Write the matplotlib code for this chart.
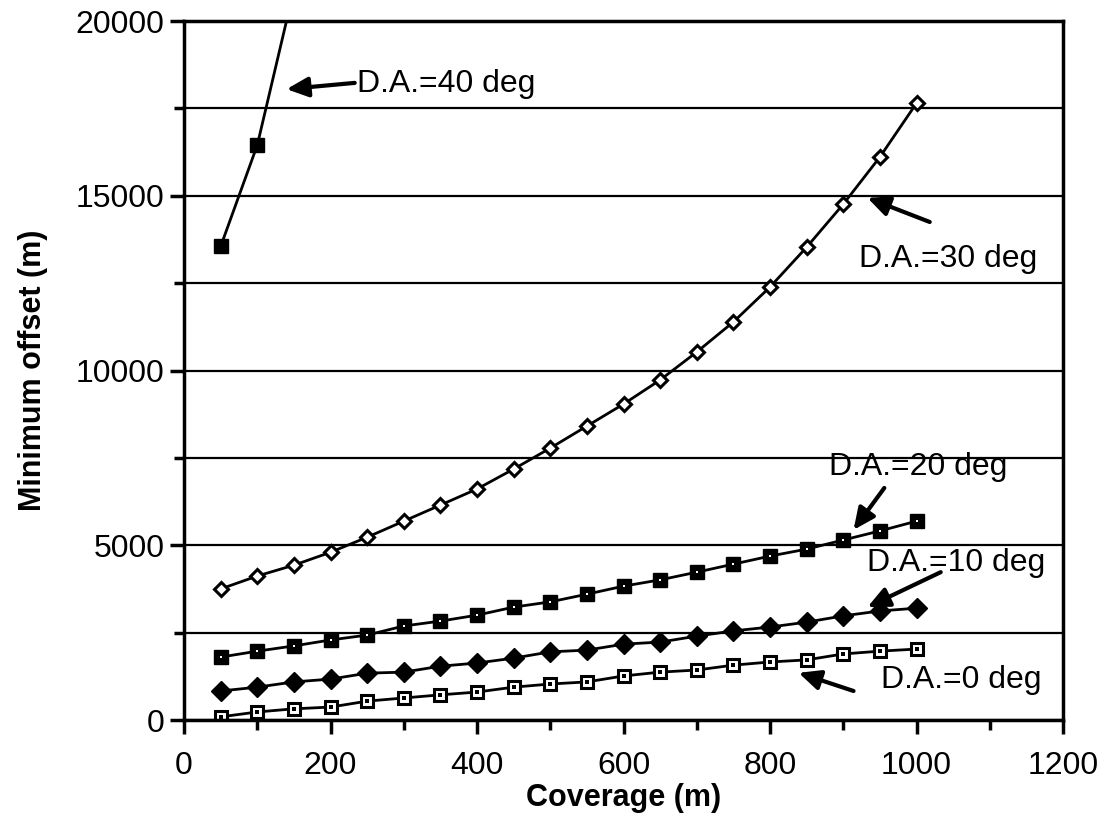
import numpy as np
import matplotlib.pyplot as plt
from matplotlib.ticker import MultipleLocator

plt.rcParams['font.family'] = ['Liberation Sans', 'DejaVu Sans']

coverage = np.arange(50, 1001, 50)

# D.A. = 40 deg (last point runs past the top of the axis)
cov_40 = [50, 100, 150]
off_40 = [13550, 16450, 20900]

off_30 = [3750, 4120, 4430, 4800, 5230, 5690, 6150, 6610, 7180, 7780,
          8410, 9040, 9730, 10530, 11390, 12390, 13530, 14760, 16110, 17650]
off_20 = [1800, 1970, 2120, 2290, 2430, 2690, 2830, 3000, 3230, 3380,
          3600, 3830, 4010, 4230, 4460, 4690, 4890, 5150, 5410, 5690]
off_10 = [830, 940, 1090, 1170, 1340, 1370, 1540, 1630, 1770, 1950,
          2000, 2170, 2230, 2400, 2550, 2660, 2800, 2980, 3120, 3200]
off_0 = [90, 230, 320, 370, 540, 630, 720, 800, 940, 1030,
         1090, 1260, 1370, 1430, 1570, 1660, 1720, 1890, 1970, 2030]

# annotation text, arrow head, arrow tail, text anchor (data units)
labels = ["D.A.=40 deg", "D.A.=30 deg", "D.A.=20 deg", "D.A.=10 deg", "D.A.=0 deg"]
heads = [(140, 18050), (933, 14940), (914, 5440), (933, 3230), (839, 1350)]
tails = [(233, 18230), (1018, 14250), (956, 6640), (1033, 4230), (914, 830)]
text_pos = [(236, 18200), (922, 13190), (880, 7240), (933, 4490), (952, 1140)]


def draw_chart():
    fig = plt.figure(figsize=(11.04, 8.18), dpi=100)
    ax = fig.add_axes([0.1667, 0.1198, 0.7962, 0.8545])

    ax.set_xlim(0, 1200)
    ax.set_ylim(0, 20000)

    ax.yaxis.set_major_locator(MultipleLocator(5000))
    ax.yaxis.set_minor_locator(MultipleLocator(2500))
    ax.xaxis.set_major_locator(MultipleLocator(200))
    ax.xaxis.set_minor_locator(MultipleLocator(100))
    ax.grid(True, axis='y', which='both', color='black', lw=1.6)
    ax.set_axisbelow(True)

    ax.plot(cov_40, off_40, color='black', lw=2, marker='s', ms=10,
            mfc='black', mec='black', clip_on=True)
    ax.plot(coverage, off_30, color='black', lw=2, marker='D', ms=7,
            mfc='white', mec='black', mew=2.2)
    ax.plot(coverage, off_20, color='black', lw=2, marker='s', ms=10.5,
            mfc='black', mec='black')
    ax.plot(coverage, off_20, ls='none', marker='s', ms=2, mfc='white', mew=0)
    ax.plot(coverage, off_10, color='black', lw=2, marker='D', ms=10,
            mfc='black', mec='black')
    ax.plot(coverage, off_0, color='black', lw=2, marker='s', ms=9,
            mfc='white', mec='black', mew=2.2)
    ax.plot(coverage, off_0, ls='none', marker='s', ms=2.5, mfc='black', mew=0)

    for lab, h, t, p in zip(labels, heads, tails, text_pos):
        ax.annotate("", xy=h, xytext=t,
                    arrowprops=dict(arrowstyle='-|>,head_length=1.3,head_width=0.6',
                                    color='black', lw=3, shrinkA=0, shrinkB=0))
        ax.text(p[0], p[1], lab, fontsize=23, ha='left', va='center')

    for side in ['left', 'right', 'top', 'bottom']:
        ax.spines[side].set_linewidth(2.5)

    ax.tick_params(axis='both', which='major', labelsize=23, length=10,
                   width=2.5, direction='out')
    ax.tick_params(axis='x', which='major', pad=12)
    ax.tick_params(axis='y', which='major', pad=4)
    ax.tick_params(axis='both', which='minor', length=7, width=2.5,
                   direction='out')

    ax.set_xlabel("Coverage (m)", fontsize=22, fontweight='bold', labelpad=2)
    ax.set_ylabel("Minimum offset (m)", fontsize=22, fontweight='bold',
                  labelpad=20)

    fig.savefig("out.png", dpi=100)


if __name__ == "__main__":
    draw_chart()
